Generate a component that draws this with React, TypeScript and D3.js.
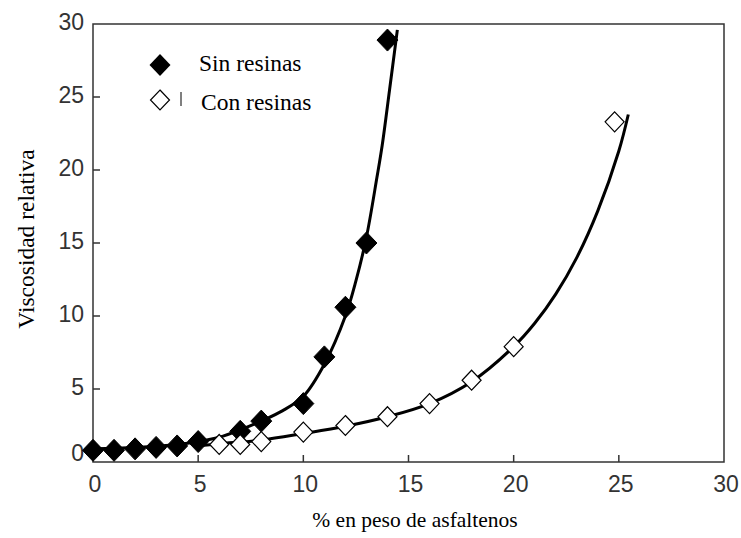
import React from "react";
import * as d3 from "d3";

const sinX = [0, 1, 2, 3, 4, 5, 7, 8, 10, 11, 12, 13, 14];
const sinY = [0.8, 0.8, 0.9, 1.0, 1.1, 1.4, 2.1, 2.8, 4.0, 7.2, 10.6, 15.0, 28.9];
const conX = [6, 7, 8, 10, 12, 14, 16, 18, 20, 24.8];
const conY = [1.2, 1.2, 1.4, 2.05, 2.5, 3.1, 4.0, 5.6, 7.9, 23.3];

const sinFitX = [0, 2, 4, 5, 6, 7, 8, 9, 10, 11, 12, 12.5, 13, 13.5, 13.75, 14.1, 14.47];
const sinFitY = [0.9, 1.0, 1.2, 1.4, 1.7, 2.2, 2.8, 3.5, 4.5, 6.7, 10.0, 12.4, 15.4, 19.5, 21.7, 25.5, 29.6];
const conFitX = [5, 6, 8, 10, 12, 14, 16, 18, 20, 21, 22, 23, 24, 25, 25.45];
const conFitY = [1.1, 1.25, 1.5, 1.95, 2.45, 3.1, 4.0, 5.5, 7.9, 9.5, 11.5, 14.0, 17.2, 21.3, 23.8];

const xTicks = [0, 5, 10, 15, 20, 25, 30];
const yTicks = [0, 5, 10, 15, 20, 25, 30];
const legendLabels = ["Sin resinas", "Con resinas"];
const xTitle = "% en peso de asfaltenos";
const yTitle = "Viscosidad relativa";

const W = 741;
const H = 538;
const L = 93, R = 724, T = 24, B = 462;

function diamond(cx: number, cy: number, hw: number, hh: number) {
  return `M${cx},${cy - hh}L${cx + hw},${cy}L${cx},${cy + hh}L${cx - hw},${cy}Z`;
}

export default function App() {
  const x = d3.scaleLinear().domain([0, 30]).range([L, R]);
  const y = d3.scaleLinear().domain([0, 30]).range([B, T]);
  const line = d3
    .line<[number, number]>()
    .x((d) => x(d[0]))
    .y((d) => y(d[1]))
    .curve(d3.curveCatmullRom.alpha(0.5));
  const sinFit = sinFitX.map((v, i) => [v, sinFitY[i]] as [number, number]);
  const conFit = conFitX.map((v, i) => [v, conFitY[i]] as [number, number]);
  const sansTick = "'Liberation Sans', Arial, sans-serif";
  const serif = "'Liberation Serif', 'DejaVu Serif', serif";
  return (
    <svg width={W} height={H} style={{ position: "absolute", left: 0, top: 0, background: "#fff" }}>
      <rect x={L} y={T} width={R - L} height={B - T} fill="none" stroke="#333" strokeWidth={1.5} />
      {xTicks.slice(1, -1).map((t) => (
        <line key={"xt" + t} x1={x(t)} x2={x(t)} y1={B} y2={B - 7} stroke="#333" strokeWidth={1.5} />
      ))}
      {yTicks.slice(1, -1).map((t) => (
        <line key={"yt" + t} x1={L} x2={L + 7} y1={y(t)} y2={y(t)} stroke="#333" strokeWidth={1.5} />
      ))}
      {xTicks.map((t) => (
        <text key={"xl" + t} x={x(t) + 2} y={492} textAnchor="middle" style={{ fontFamily: sansTick }} fontSize={23} fill="#333">
          {t}
        </text>
      ))}
      {yTicks.map((t) => (
        <text key={"yl" + t} x={84} y={t === 0 ? 461 : y(t) + 6} textAnchor="end" style={{ fontFamily: sansTick }} fontSize={23} fill="#333">
          {t}
        </text>
      ))}
      <text x={415} y={527} textAnchor="middle" style={{ fontFamily: serif }} fontSize={21.5} fill="#000">
        {xTitle}
      </text>
      <text
        transform={`translate(34,239) rotate(-90)`}
        textAnchor="middle"
        style={{ fontFamily: serif }}
        fontSize={23.5}
        fill="#000"
      >
        {yTitle}
      </text>
      <path d={line(sinFit) || ""} fill="none" stroke="#000" strokeWidth={3} />
      <path d={line(conFit) || ""} fill="none" stroke="#000" strokeWidth={3} />
      {sinX.map((v, i) => (
        <path key={"s" + i} d={diamond(x(v), y(sinY[i]), 10.5, 11)} fill="#000" stroke="#000" strokeWidth={1} />
      ))}
      {conX.map((v, i) => (
        <path key={"c" + i} d={diamond(x(v), y(conY[i]), 9.5, 10)} fill="#fff" stroke="#000" strokeWidth={1.2} />
      ))}
      <path d={diamond(160, 65, 10.5, 11)} fill="#000" />
      <text x={199} y={71} style={{ fontFamily: serif }} fontSize={23.5} fill="#000">
        {legendLabels[0]}
      </text>
      <path d={diamond(160, 100, 9.5, 10)} fill="#fff" stroke="#000" strokeWidth={1.2} />
      <line x1={181} x2={181} y1={92} y2={106} stroke="#000" strokeWidth={1} />
      <text x={201} y={110} style={{ fontFamily: serif }} fontSize={23.5} fill="#000">
        {legendLabels[1]}
      </text>
    </svg>
  );
}
